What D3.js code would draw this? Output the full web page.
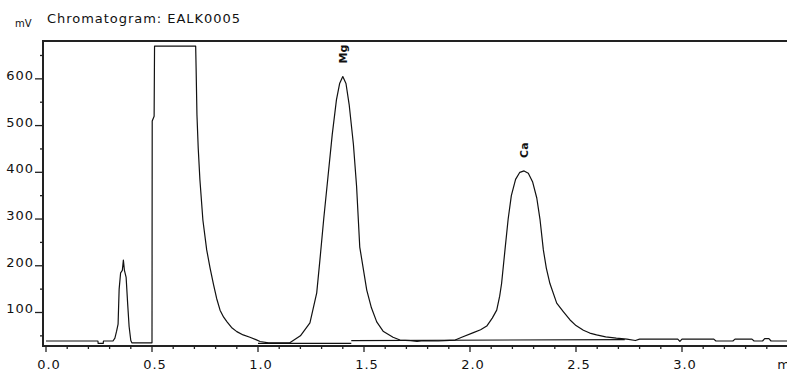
<!DOCTYPE html>
<html><head><meta charset="utf-8">
<script src="https://cdn.jsdelivr.net/npm/d3@7"></script>
<style>
html,body{margin:0;padding:0;background:#fff;overflow:hidden}
text{font-family:"DejaVu Sans",sans-serif;fill:#111}
</style></head>
<body><svg id="c" width="787" height="371"></svg>
<script>
// ---- data ----
const title = "Chromatogram: EALK0005";
const yUnit = "mV";
const xTickValues = [0, 0.5, 1.0, 1.5, 2.0, 2.5, 3.0, 3.5];
const xTickLabels = ["0.0", "0.5", "1.0", "1.5", "2.0", "2.5", "3.0", "min"];
const yTickValues = [100, 200, 300, 400, 500, 600];
const yTickLabels = ["100", "200", "300", "400", "500", "600"];
// signal (time in min, mV)
const times = [0,0.245,0.246,0.27,0.271,0.316,0.325,0.333,0.34,0.345,0.352,0.36,0.365,0.37,0.378,0.385,0.392,0.40,0.405,0.50,
0.501,0.51,0.512,0.706,0.708,0.712,0.718,0.726,0.74,0.758,0.774,0.79,0.805,0.821,0.838,0.854,0.875,0.90,0.93,0.962,0.99,1.01,1.05,1.15,
1.2,1.245,1.277,1.292,1.31,1.33,1.35,1.37,1.385,1.40,1.415,1.43,1.45,1.465,1.48,1.513,1.535,1.56,1.59,1.637,1.67,1.72,1.75,1.78,1.85,1.88,1.93,
1.961,2.016,2.05,2.079,2.105,2.126,2.14,2.149,2.165,2.18,2.195,2.215,2.235,2.255,2.275,2.295,2.315,2.33,2.346,2.36,2.377,2.409,2.44,2.472,2.5,2.535,2.565,2.597,2.64,2.69,2.74,
2.78,2.8,2.98,2.99,3.0,3.15,3.16,3.24,3.25,3.33,3.34,3.38,3.39,3.41,3.42,3.5];
const signal = [39,39,34,34,39,39,45,60,75,150,185,190,212,190,175,120,70,40,35,35,
510,520,670,670,624,523,452,384,298,234,195,160,130,105,90,80,68,59,52,47,42,38,35,35,
50,78,142,212,300,390,480,555,590,605,590,545,460,370,240,148,110,80,60,47,41,40,38,40,39,40,41,
47,57,63,71,88,105,135,162,234,300,350,385,400,403,398,380,345,300,234,195,162,120,102,84,72,62,56,52,48,45,43,
40,43,43,38,43,43,39,39,43,43,39,39,44,44,39,39];
// integration baselines
const baseStart = [[1.0, 34], [1.44, 40]];
const baseEnd = [[1.44, 34], [2.73, 42]];
// peak labels
const peakNames = ["Mg", "Ca"];
const peakTimes = [1.40, 2.255];
const peakHeights = [605, 403];

// ---- drawing ----
const svg = d3.select("#c");
svg.append("rect").attr("width",787).attr("height",371).attr("fill","#fff");
const L = 43, T = 41, B = 346, R = 787;
const x = d3.scaleLinear().domain([0, 3.5]).range([46, 788]);
const y = d3.scaleLinear().domain([28.3, 681]).range([B, T]);

// title
svg.append("text").attr("x",15).attr("y",27).attr("font-size",10).text(yUnit);
svg.append("text").attr("x",47).attr("y",23).attr("font-size",13)
  .attr("textLength",193).attr("lengthAdjust","spacing").text(title);

// signal
const pts = times.map((t,i)=>[t, signal[i]]);
const line = d3.line().x(d=>x(d[0])).y(d=>y(d[1]));
svg.append("path").attr("d", line(pts)).attr("fill","none")
  .attr("stroke","#111").attr("stroke-width",1.2).attr("stroke-linejoin","round");
baseStart.forEach((s,i)=>{
  svg.append("path").attr("d", line([s, baseEnd[i]])).attr("fill","none")
    .attr("stroke","#111").attr("stroke-width",1.2);
});

// top frame line
svg.append("line").attr("x1",L).attr("x2",R).attr("y1",T).attr("y2",T)
  .attr("stroke","#222").attr("stroke-width",2);

// peak labels (with gap in frame)
peakNames.forEach((n,i)=>{
  const px = x(peakTimes[i]) + 4, py = y(peakHeights[i]) - 13;
  const g = svg.append("g").attr("transform",`translate(${px},${py}) rotate(-90)`);
  const t = g.append("text").attr("x",0).attr("y",0).attr("font-size",11)
    .attr("font-weight","bold").text(n);
  const bb = t.node().getBBox();
  if (py - bb.width < T + 3) {
    g.insert("rect","text").attr("x",bb.x-2).attr("y",bb.y-1).attr("width",bb.width+40).attr("height",bb.height+2).attr("fill","#fff");
  }
});

// axes lines
svg.append("line").attr("x1",L).attr("x2",L).attr("y1",T-1).attr("y2",B+1)
  .attr("stroke","#222").attr("stroke-width",2);
svg.append("line").attr("x1",L-1).attr("x2",R).attr("y1",B).attr("y2",B)
  .attr("stroke","#222").attr("stroke-width",2);

// x ticks
const xMinor = d3.range(0, 36).map(i=>i/10).filter(v=>v<=3.5);
xMinor.forEach(v=>{
  const major = xTickValues.some(m=>Math.abs(m-v)<1e-6);
  svg.append("line").attr("x1",x(v)).attr("x2",x(v)).attr("y1",B).attr("y2",B+(major?6:3))
    .attr("stroke","#222").attr("stroke-width",1.3);
});
xTickValues.forEach((v,i)=>{
  svg.append("text").attr("x",x(v)+3).attr("y",369).attr("font-size",13)
    .attr("text-anchor","middle").attr("letter-spacing",1).text(xTickLabels[i]);
});

// y ticks
const yMinor = d3.range(50, 681, 50);
yMinor.forEach(v=>{
  const major = yTickValues.includes(v);
  svg.append("line").attr("x1",L-(major?8:3)).attr("x2",L).attr("y1",y(v)).attr("y2",y(v))
    .attr("stroke","#222").attr("stroke-width",1.3);
});
yTickValues.forEach((v,i)=>{
  svg.append("text").attr("x",34).attr("y",y(v)+1).attr("font-size",13)
    .attr("text-anchor","end").attr("letter-spacing",1).text(yTickLabels[i]);
});
</script></body></html>
